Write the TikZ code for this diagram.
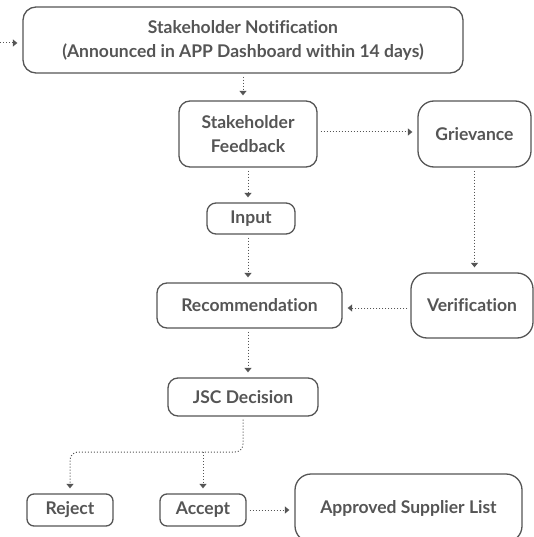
\documentclass[tikz,border=0pt]{standalone}
\usepackage{fontspec}
\setmainfont{Lato}[Ligatures=NoCommon]
\usetikzlibrary{arrows.meta}
\definecolor{ink}{HTML}{555555}
\tikzset{
  box/.style={draw=ink, line width=1.3pt, text=ink, font=\bfseries\fontsize{17.5}{24}\selectfont, align=center, inner sep=0pt},
  conn/.style={draw=ink, line width=1pt, dash pattern=on 1pt off 2pt, -{Triangle[width=7pt,length=4.5pt]}, shorten >=5pt, shorten <=3pt},
}
\begin{document}
\begin{tikzpicture}[x=1pt,y=-1pt]
\useasboundingbox (0,0) rectangle (534,537);
\begin{scope}
\clip (0,0) rectangle (534,537);
\node[box, rounded corners=13pt, minimum width=440pt, minimum height=66pt] (notif) at (243,40) {Stakeholder Notification\\(Announced in APP Dashboard within 14 days)};
\node[box, rounded corners=11pt, minimum width=138pt, minimum height=66pt] (fb) at (248,134) {Stakeholder\\Feedback};
\node[box, rounded corners=16pt, minimum width=113pt, minimum height=66pt] (griev) at (474.5,134) {Grievance};
\node[box, rounded corners=9pt, minimum width=88pt, minimum height=31pt] (input) at (251,218.5) {Input};
\node[box, rounded corners=10pt, minimum width=185pt, minimum height=45pt] (rec) at (249.5,305.5) {Recommendation};
\node[box, rounded corners=16pt, minimum width=122pt, minimum height=65pt] (verif) at (472,305.5) {Verification};
\node[box, rounded corners=10pt, minimum width=150pt, minimum height=38pt] (jsc) at (243,397) {JSC Decision};
\node[box, rounded corners=7pt, minimum width=86pt, minimum height=32pt] (reject) at (70,510) {Reject};
\node[box, rounded corners=7pt, minimum width=86pt, minimum height=32pt] (accept) at (203,510) {Accept};
\node[box, rounded corners=16pt, minimum width=227pt, minimum height=68pt] (asl) at (408.5,508) {Approved Supplier List};

\coordinate (in) at (0,43);
\coordinate (bus) at (0,452);
\draw[conn, shorten <=0pt] (in) -- (in -| notif.west);
\draw[conn] (notif.south) -- (notif.south |- fb.north);
\draw[conn] (fb.east |- 0,132) -- (griev.west |- 0,132);
\draw[conn] (fb.south) -- (fb.south |- input.north);
\draw[conn] (input.south -| fb.south) -- (fb.south |- rec.north);
\draw[conn] (griev.south) -- (griev.south |- verif.north);
\draw[conn] (verif.west |- 0,308) -- (rec.east |- 0,308);
\draw[conn] (rec.south -| fb.south) -- (fb.south |- jsc.north);
\draw[conn, rounded corners=8pt] (jsc.south) -- (jsc.south |- bus) -- (reject.north |- bus) -- (reject.north);
\draw[conn, shorten <=0pt] (accept.north |- bus) -- (accept.north);
\draw[conn] (accept.east) -- (asl.west |- accept.east);
\end{scope}
\end{tikzpicture}
\end{document}
